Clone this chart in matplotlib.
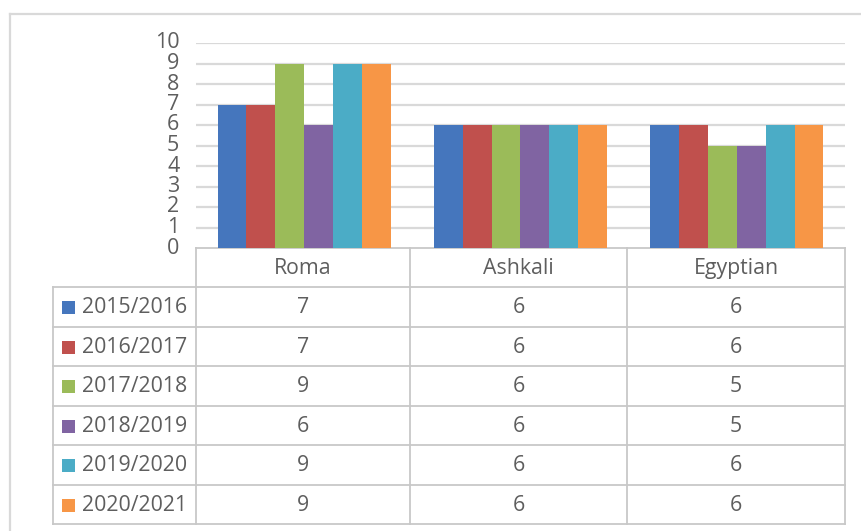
import matplotlib
matplotlib.use("Agg")
import matplotlib.pyplot as plt
from matplotlib.patches import Rectangle
import numpy as np

# Data
categories = ["Roma", "Ashkali", "Egyptian"]
years = ["2015/2016", "2016/2017", "2017/2018", "2018/2019", "2019/2020", "2020/2021"]
v_2015 = [7, 6, 6]
v_2016 = [7, 6, 6]
v_2017 = [9, 6, 5]
v_2018 = [6, 6, 5]
v_2019 = [9, 6, 6]
v_2020 = [9, 6, 6]
series = [v_2015, v_2016, v_2017, v_2018, v_2019, v_2020]
yticks = list(range(0, 11))

colors = ["#4576BD", "#C0504D", "#9BBB59", "#8064A2", "#4BACC6", "#F79646"]
text_color = "#5E5E5E"
grid_color = "#D9D9D9"
line_color = "#C8C8C8"
font = "Open Sans"

W, H = 862, 531
fig = plt.figure(figsize=(W / 100, H / 100), dpi=100)

# Pixel-space overlay for frame and data table
ov = fig.add_axes([0, 0, 1, 1])
ov.set_xlim(0, W)
ov.set_ylim(H, 0)
ov.axis("off")

# Plot area geometry (pixels)
px_left, px_right = 196, 845
px_top, px_bottom = 43, 248

ax = fig.add_axes([px_left / W, (H - px_bottom) / H,
                   (px_right - px_left) / W, (px_bottom - px_top) / H])
ax.set_zorder(2)
ax.patch.set_alpha(0)

n = len(series)
bw = 0.8 / n
x = np.arange(len(categories))
for i, (vals, c) in enumerate(zip(series, colors)):
    ax.bar(x - 0.4 + bw * (i + 0.5), vals, width=bw, color=c, zorder=3,
           linewidth=0)

ax.set_xlim(-0.5, len(categories) - 0.5)
ax.set_ylim(0, 10)
ax.set_yticks(yticks)
ax.set_yticklabels([str(t) for t in yticks], fontsize=15.5, color=text_color,
                   family=font)
ax.tick_params(axis="y", length=0, pad=12)
ax.set_xticks([])
for t in yticks[1:]:
    ax.axhline(t, color=grid_color, linewidth=1.6, zorder=1)
for s in ax.spines.values():
    s.set_visible(False)
for lab in ax.get_yticklabels():
    lab.set_verticalalignment("center")

# Outer chart frame
ov.plot([10, W + 5], [14, 14], color="#D9D9D9", linewidth=1.6)
ov.plot([10, 10], [14, H + 5], color="#D9D9D9", linewidth=1.6)

# Data table
col_x = [196, 410, 627, 845]
row_label_left = 53
header_top = 248
row_top = 287
row_h = (524 - 287) / len(years)
row_y = [row_top + row_h * k for k in range(len(years) + 1)]

lw = 1.3
ov.plot([col_x[0], col_x[-1]], [header_top, header_top], color=line_color, lw=lw)
for y in row_y:
    ov.plot([row_label_left, col_x[-1]], [y, y], color=line_color, lw=lw)
ov.plot([row_label_left, row_label_left], [row_top, row_y[-1]], color=line_color, lw=lw)
for cx in col_x:
    ov.plot([cx, cx], [header_top, row_y[-1]], color=line_color, lw=lw)

fs = 15.3
for j, cat in enumerate(categories):
    cx = (col_x[j] + col_x[j + 1]) / 2
    ov.text(cx, (header_top + row_top) / 2 + 1, cat, ha="center", va="center",
            fontsize=fs, color=text_color, family=font)

for i, (yr, vals, c) in enumerate(zip(years, series, colors)):
    yc = (row_y[i] + row_y[i + 1]) / 2 + 1
    ov.add_patch(Rectangle((62, yc - 6.5), 13, 13, color=c, linewidth=0))
    ov.text(82, yc, yr, ha="left", va="center", fontsize=fs,
            color=text_color, family=font)
    for j, v in enumerate(vals):
        cx = (col_x[j] + col_x[j + 1]) / 2
        ov.text(cx, yc, str(v), ha="center", va="center", fontsize=fs,
                color=text_color, family=font)

fig.savefig("out.png", dpi=100)
